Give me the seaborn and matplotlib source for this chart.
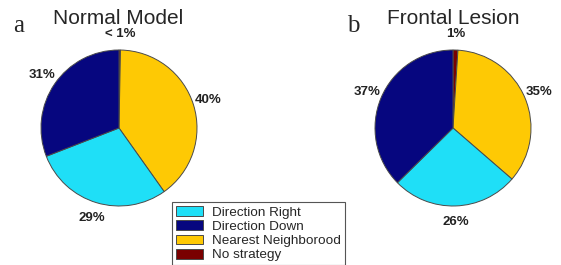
import matplotlib
matplotlib.use("Agg")
import matplotlib.pyplot as plt
import seaborn as sns

# data
strategies = ["Direction Right", "Direction Down", "Nearest Neighborood", "No strategy"]
colors = ["#1fdff7", "#06067f", "#fec904", "#7a0000"]
normal_vals = [29, 31, 40, 0.3]
normal_labels = ["29%", "31%", "40%", "< 1%"]
frontal_vals = [26, 37, 35, 1]
frontal_labels = ["26%", "37%", "35%", "1%"]
# clockwise from 12 o'clock: no strategy, nearest, right, down
draw_order = [3, 2, 0, 1]

sns.set_theme(style="white")
plt.rcParams['font.family'] = ['Liberation Sans', 'DejaVu Sans']

W, H = 561, 265
fig = plt.figure(figsize=(W / 100, H / 100), dpi=100)
fig.patch.set_facecolor("white")

R = 78  # pie radius in px
side = 2.5 * R


def draw_pie(cx, cy, vals, labels):
    ax = fig.add_axes([(cx - side / 2) / W, (H - cy - side / 2) / H, side / W, side / H])
    wedges, texts = ax.pie(
        [vals[i] for i in draw_order],
        labels=[labels[i] for i in draw_order],
        colors=[colors[i] for i in draw_order],
        startangle=90, counterclock=False, labeldistance=1.2,
        wedgeprops=dict(edgecolor="#4a4a4a", linewidth=0.7),
        textprops=dict(fontsize=9.5, fontweight="bold", color="#222222"),
    )
    for t in texts:
        t.set_horizontalalignment("center")
        t.set_verticalalignment("center")
    ax.set_xlim(-1.25, 1.25)
    ax.set_ylim(-1.25, 1.25)
    ax.set_aspect("equal")
    ax.axis("off")
    return wedges


draw_pie(119, 128, normal_vals, normal_labels)
wedges_b = draw_pie(453, 128, frontal_vals, frontal_labels)

fig.text(118 / W, 1 - 18 / H, "Normal Model", ha="center", va="center", fontsize=15)
fig.text(453 / W, 1 - 18 / H, "Frontal Lesion", ha="center", va="center", fontsize=15)
fig.text(13 / W, 1 - 32 / H, "a", ha="left", va="baseline", fontsize=18, family="Liberation Serif")
fig.text(347 / W, 1 - 32 / H, "b", ha="left", va="baseline", fontsize=18, family="Liberation Serif")

# legend in the original category order
handle_by_cat = {draw_order[k]: w for k, w in enumerate(wedges_b)}
leg = fig.legend(
    [handle_by_cat[i] for i in range(len(strategies))], strategies,
    loc="upper left", bbox_to_anchor=(172 / W, 1 - 202 / H), borderaxespad=0,
    fontsize=9.7, handlelength=2.0, handleheight=0.75, handletextpad=0.7,
    labelspacing=0.12, borderpad=0.3, fancybox=False, framealpha=1,
    edgecolor="#555555",
)
leg.get_frame().set_linewidth(0.8)
# a little extra room on the right like the original box
fr = leg.get_frame()
fig.canvas.draw()
fr.set_width(fr.get_width() + 8)

fig.savefig("out.png", dpi=100, facecolor="white")
